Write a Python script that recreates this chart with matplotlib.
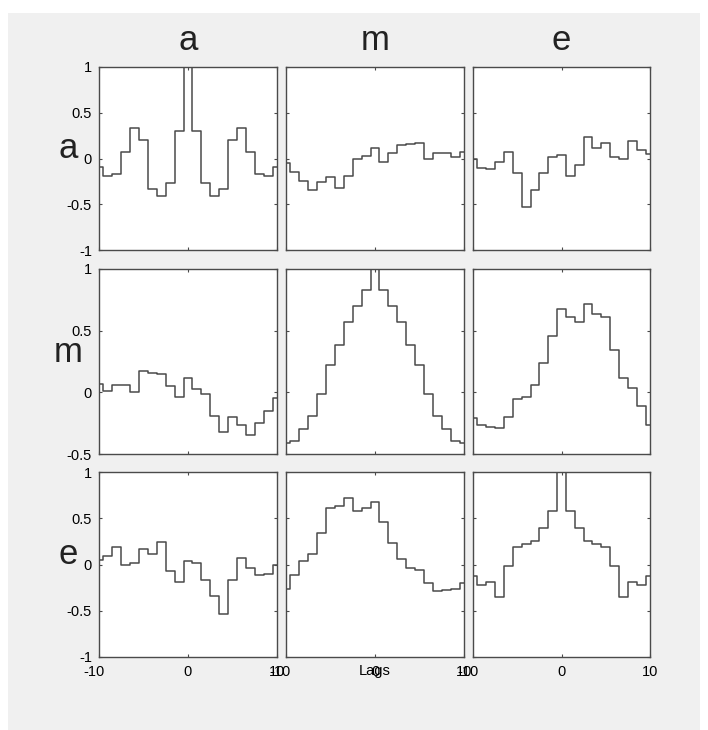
import matplotlib
matplotlib.use("Agg")
import matplotlib.pyplot as plt
from matplotlib.patches import Rectangle
from matplotlib.transforms import ScaledTranslation
import numpy as np

plt.rcParams['font.family'] = ['Liberation Sans', 'DejaVu Sans']
plt.rcParams['axes.unicode_minus'] = False

names = ['a', 'm', 'e']
lags = list(range(-10, 11))

aa = [-0.094, -0.19, -0.166, 0.072, 0.33, 0.20, -0.33, -0.41, -0.27, 0.30, 1.0,
      0.30, -0.27, -0.41, -0.33, 0.20, 0.33, 0.072, -0.166, -0.19, -0.094]
am = [-0.045, -0.152, -0.247, -0.348, -0.262, -0.20, -0.32, -0.19, -0.01, 0.031, 0.115,
      -0.039, 0.055, 0.145, 0.158, 0.17, 0.0, 0.057, 0.062, 0.013, 0.066]
ae = [-0.007, -0.10, -0.11, -0.04, 0.068, -0.163, -0.53, -0.34, -0.163, 0.02, 0.043,
      -0.19, -0.073, 0.24, 0.11, 0.168, 0.02, 0.0, 0.19, 0.093, 0.05]
ma = [0.066, 0.013, 0.062, 0.057, 0.0, 0.17, 0.158, 0.145, 0.055, -0.039, 0.115,
      0.031, -0.01, -0.19, -0.32, -0.20, -0.262, -0.348, -0.247, -0.152, -0.045]
mm = [-0.41, -0.395, -0.30, -0.19, -0.016, 0.22, 0.38, 0.57, 0.70, 0.83, 1.0,
      0.83, 0.70, 0.57, 0.38, 0.22, -0.016, -0.19, -0.30, -0.395, -0.41]
me = [-0.205, -0.262, -0.278, -0.288, -0.202, -0.055, -0.037, 0.062, 0.237, 0.46, 0.672,
      0.613, 0.573, 0.72, 0.635, 0.613, 0.342, 0.113, 0.038, -0.112, -0.263]
ea = [0.05, 0.093, 0.19, 0.0, 0.02, 0.168, 0.11, 0.24, -0.073, -0.19, 0.043,
      0.02, -0.163, -0.34, -0.53, -0.163, 0.068, -0.04, -0.11, -0.10, -0.007]
em = [-0.263, -0.112, 0.038, 0.113, 0.342, 0.613, 0.635, 0.72, 0.573, 0.613, 0.672,
      0.46, 0.237, 0.062, -0.037, -0.055, -0.202, -0.288, -0.278, -0.262, -0.205]
ee = [-0.12, -0.22, -0.193, -0.35, -0.015, 0.19, 0.22, 0.255, 0.394, 0.577, 1.0,
      0.577, 0.394, 0.255, 0.22, 0.19, -0.015, -0.35, -0.193, -0.22, -0.12]

series = [[aa, am, ae], [ma, mm, me], [ea, em, ee]]
row_ylims = [(-1, 1), (-0.5, 1), (-1, 1)]
row_yticks = [[-1, -0.5, 0, 0.5, 1], [-0.5, 0, 0.5, 1], [-1, -0.5, 0, 0.5, 1]]
row_yticklabels = [['-1', '-0.5', '0', '0.5', '1'], ['-0.5', '0', '0.5', '1'],
                   ['-1', '-0.5', '0', '0.5', '1']]
xticks = [-10, 0, 10]
xticklabels = ['-10', '0', '10']

W, H = 708, 730
fig = plt.figure(figsize=(W / 100, H / 100), dpi=100)
fig.patch.set_facecolor('white')
fig.patches.append(Rectangle((8 / W, 0), (700 - 8) / W, (H - 13) / H,
                             transform=fig.transFigure, facecolor='#f0f0f0',
                             edgecolor='none', zorder=-10))

col_px = [(99, 277), (286, 464), (473, 650)]
row_px = [(67, 250), (269, 454), (472, 657)]
lc = '#4a4a4a'

for r in range(3):
    for c in range(3):
        x0, x1 = col_px[c]
        y0, y1 = row_px[r]
        ax = fig.add_axes([x0 / W, (H - y1) / H, (x1 - x0) / W, (y1 - y0) / H])
        ax.set_facecolor('white')
        ax.step(lags, series[r][c], where='mid', color=lc, lw=1.1)
        ax.set_xlim(-10, 10)
        ax.set_ylim(*row_ylims[r])
        ax.set_xticks(xticks)
        ax.set_yticks(row_yticks[r])
        ax.tick_params(direction='in', length=2.5, width=0.8, color=lc,
                       top=True, right=True, labelsize=10.5, pad=5)
        for s in ax.spines.values():
            s.set_color(lc)
            s.set_linewidth(1.0)
        ax.set_xticklabels([])
        if c == 0:
            ax.set_yticklabels(row_yticklabels[r])
            ax.text(-0.171, 0.5, names[r], transform=ax.transAxes, ha='center',
                    va='baseline', fontsize=25, color='#222222')
        else:
            ax.set_yticklabels([])
        if r == 2:
            for xv, lab in zip(xticks, xticklabels):
                dx = -0.055 if lab.startswith('-') else 0.0
                tr = ax.get_xaxis_transform() + ScaledTranslation(dx, -0.075, fig.dpi_scale_trans)
                ax.text(xv, 0, lab, transform=tr, ha='center', va='top',
                        fontsize=10.5, clip_on=False)
        if r == 0:
            ax.text(0.5, 1.093, names[c], transform=ax.transAxes, ha='center',
                    va='baseline', fontsize=25, color='#222222')

fig.text(375 / W, (H - 671) / H, 'Lags', ha='center', va='center', fontsize=10.5)

fig.savefig('out.png', dpi=100)
